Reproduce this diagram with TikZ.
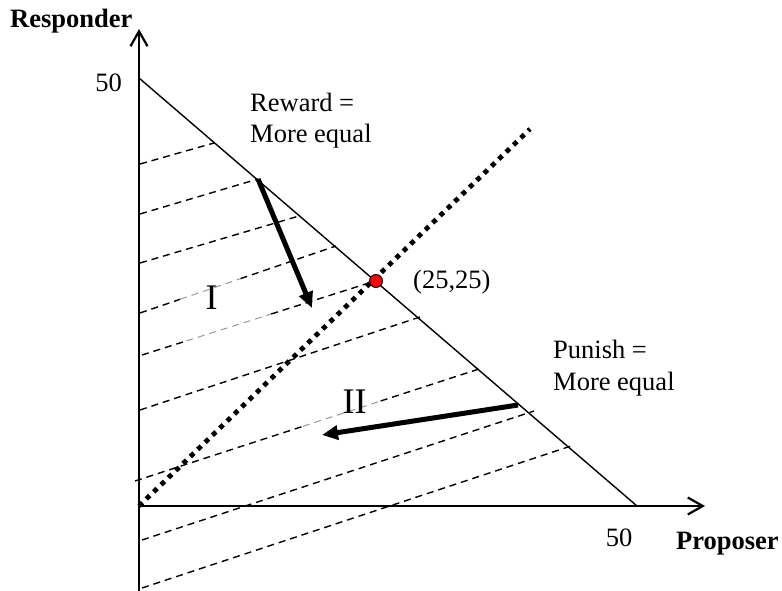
\documentclass[tikz,border=0pt]{standalone}
\usepackage{fontspec}
\setmainfont{Liberation Serif}
\usetikzlibrary{arrows.meta,calc}
\begin{document}
\begin{tikzpicture}[x=1pt,y=-1pt,
  lbl/.style={inner sep=0pt, font=\fontsize{26.5}{30}\selectfont},
  axlbl/.style={inner sep=0pt, font=\fontsize{26.5}{30}\selectfont\bfseries},
  roman/.style={inner sep=0pt, font=\fontsize{36}{40}\selectfont},
  axis/.style={line width=2.2pt, -{Straight Barb[length=15pt,width=17pt]}},
  budget/.style={line width=1.4pt},
  iso/.style={line width=1.4pt, dash pattern=on 7pt off 5pt},
  isofaint/.style={line width=1pt, dash pattern=on 7pt off 5pt, black!40},
  equalline/.style={line width=4.8pt, dash pattern=on 4.8pt off 5.4pt},
  move/.style={line width=5pt, -{Triangle[length=16pt,width=14pt]}},
  eqdot/.style={circle, draw, fill=red, minimum size=13pt, inner sep=0pt, line width=0.9pt}
]
\useasboundingbox (0,0) rectangle (782,591);

% key points
\coordinate (O) at (139,506);
\coordinate (ytop) at (139,29);
\coordinate (ybot) at (139,591);
\coordinate (xend) at (705,506);
\coordinate (B50) at (139,78);
\coordinate (P50) at (637,506);
\coordinate (diagend) at (530,129);

% iso lines (dashed)
\coordinate (l1a) at (140,164); \coordinate (l1b) at (214,143);
\coordinate (l2a) at (140,214); \coordinate (l2b) at (258,179);
\coordinate (l3a) at (140,263); \coordinate (l3b) at (299,216);
\coordinate (l4a) at (140,313); \coordinate (l4b) at (336,246);
\coordinate (l5a) at (142,355); \coordinate (l5b) at (372,282);
\coordinate (l6a) at (140,410); \coordinate (l6b) at (420,317);
\coordinate (l7a) at (135,481); \coordinate (l7b) at (482,368);
\coordinate (l8a) at (142,540); \coordinate (l8b) at (534,411);
\coordinate (l9a) at (142,588); \coordinate (l9b) at (571,446);

\draw[iso] (l1a) -- (l1b);
\draw[iso] (l2a) -- (l2b);
\draw[iso] (l3a) -- (l3b);
\draw[iso] (l4a) -- ($(l4a)!0.205!(l4b)$);
\draw[isofaint] ($(l4a)!0.205!(l4b)$) -- ($(l4a)!0.513!(l4b)$);
\draw[iso] ($(l4a)!0.513!(l4b)$) -- (l4b);
\draw[iso] (l5a) -- ($(l5a)!0.193!(l5b)$);
\draw[isofaint] ($(l5a)!0.193!(l5b)$) -- ($(l5a)!0.562!(l5b)$);
\draw[iso] ($(l5a)!0.562!(l5b)$) -- (l5b);
\draw[iso] (l6a) -- (l6b);
\draw[iso] (l7a) -- ($(l7a)!0.484!(l7b)$);
\draw[isofaint] ($(l7a)!0.484!(l7b)$) -- ($(l7a)!0.708!(l7b)$);
\draw[iso] ($(l7a)!0.708!(l7b)$) -- (l7b);
\draw[iso] (l8a) -- (l8b);
\draw[iso] (l9a) -- (l9b);

% budget line
\draw[budget] (B50) -- (P50);

% equal split line
\draw[equalline] (O) -- (diagend);

% movement arrows
\coordinate (rs) at (258,179); \coordinate (rt) at (312,308);
\coordinate (ps) at (518,405); \coordinate (pt) at (322,435);
\draw[move] (rs) -- (rt);
\draw[move] (ps) -- (pt);

% equal point
\node[eqdot] (eq) at (376,281) {};

% axes
\draw[axis] (ybot) -- (ytop);
\draw[axis] (O) -- (xend);

% labels
\node[axlbl, anchor=base west] (resp) at (10,28) {Responder};
\node[axlbl, anchor=base west] (prop) at (676,549) {Proposer};
\node[lbl, anchor=base east] (y50) at (122,92) {50};
\node[lbl, anchor=base] (x50) at (619,546) {50};
\node[lbl, anchor=base west] (rew1) at (250,112) {Reward =};
\node[lbl, anchor=base west] (rew2) at (250,143) {More equal};
\node[lbl, anchor=base west] (pun1) at (553,358) {Punish =};
\node[lbl, anchor=base west] (pun2) at (553,390) {More equal};
\node[lbl, anchor=base west] (eqlbl) at (413,288) {(25,25)};
\node[roman, anchor=base] (rI) at (211.5,309) {I};
\node[roman, anchor=base] (rII) at (354.5,413) {II};
\end{tikzpicture}
\end{document}
